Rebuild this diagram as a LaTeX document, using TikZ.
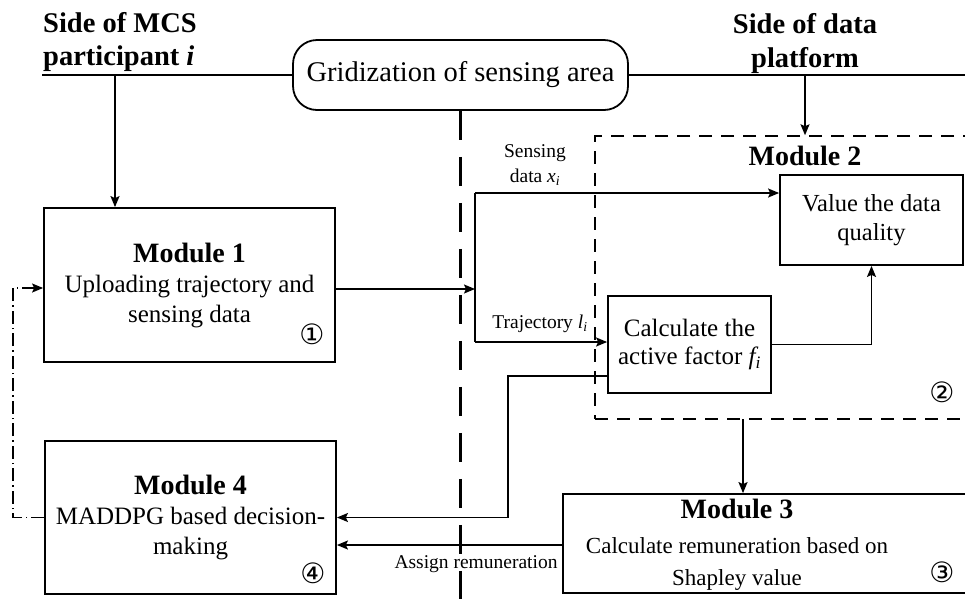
\documentclass[tikz,border=0pt]{standalone}
\usepackage{fontspec}
\setmainfont{Liberation Serif}
\newfontfamily\circfont{DejaVu Sans}
\usetikzlibrary{arrows.meta}

\begin{document}
\begin{tikzpicture}[x=1pt, y=-1pt,
  box/.style={draw, line width=1.8pt, inner sep=0pt, align=center,
    font=\fontsize{25}{30}\selectfont},
  ln/.style={line width=1.5pt},
  arr/.style={line width=1.5pt, -{Stealth[length=11pt, width=9pt, inset=2pt]}},
  lab/.style={inner sep=0pt, font=\fontsize{19.5}{24}\selectfont},
  heading/.style={inner sep=0pt, font=\fontsize{28}{30}\selectfont\bfseries},
  sidetitle/.style={inner sep=0pt, font=\fontsize{28.5}{33}\selectfont\bfseries},
  circnum/.style={inner sep=0pt, font=\circfont\fontsize{28}{28}\selectfont},
  modtwo/.style={draw, line width=1.5pt, dash pattern=on 13pt off 9pt, inner sep=0pt},
  border/.style={line width=3.2pt, dash pattern=on 29pt off 17pt},
  feedback/.style={line width=1.3pt, dash pattern=on 13pt off 4pt on 1.5pt off 4pt,
    -{Stealth[length=11pt, width=9pt, inset=2pt]}}
]
\useasboundingbox (0,0) rectangle (965,598);
\clip (0,0) rectangle (965,598);

% side titles
\node[sidetitle, anchor=base west] (tp1) at (43,32) {Side of MCS};
\node[sidetitle, anchor=base west] (tp2) at (43,65) {participant \textit{i}};
\node[sidetitle, anchor=base] (td1) at (805,33) {Side of data};
\node[sidetitle, anchor=base] (td2) at (805,67) {platform};

% gridization step on the dividing line
\node[draw, line width=1.8pt, rounded corners=24pt, minimum width=335pt,
  minimum height=70pt, inner sep=0pt, font=\fontsize{28.5}{30}\selectfont]
  (grid) at (460.5,75) {Gridization of sensing area};
\coordinate (tl) at (42,75);
\coordinate (tr) at (970,75);
\draw[ln] (tl) -- (grid.west);
\draw[ln] (grid.east) -- (tr);

% participant / platform boundary
\coordinate (dBot) at (460.5,605);
\draw[border] (grid.south) -- (grid.south |- dBot);

% module boxes
\node[box, minimum width=291pt, minimum height=154pt] (m1) at (189.5,285)
  {{\fontsize{28}{30}\selectfont\bfseries Module 1}\\Uploading trajectory and\\sensing data};
\node[box, minimum width=291pt, minimum height=153pt] (m4) at (190.5,517.5)
  {{\fontsize{28}{30}\selectfont\bfseries Module 4}\\MADDPG based decision-\\making};

\node[modtwo, minimum width=390pt, minimum height=283pt] (m2) at (790,277.5) {};
\node[heading, anchor=base] (m2h) at (805,165) {Module 2};
\node[box, minimum width=183pt, minimum height=90pt,
  font=\fontsize{24.5}{29}\selectfont] (val) at (871.5,220) {Value the data\\quality};
\node[box, minimum width=163pt, minimum height=97pt,
  font=\fontsize{25}{28}\selectfont] (calc) at (689.5,344.5)
  {Calculate the\\active factor \textit{f\textsubscript{i}}};

\node[box, minimum width=422pt, minimum height=99pt] (m3) at (774,543.5) {};
\node[heading, anchor=base] (m3h) at (737,518) {Module 3};
\node[inner sep=0pt, anchor=base, font=\fontsize{23}{30}\selectfont] (m3a) at (737,553)
  {Calculate remuneration based on};
\node[inner sep=0pt, anchor=base, font=\fontsize{23}{30}\selectfont] (m3b) at (737,585)
  {Shapley value};

% circled step numbers
\node[circnum] (n1) at (312,334) {①};
\node[circnum] (n2) at (942,392) {②};
\node[circnum] (n3) at (942,572) {③};
\node[circnum] (n4) at (313,573) {④};

% drops from the side lines
\coordinate (pdrop) at (115,75);
\draw[arr] (pdrop) -- (pdrop |- m1.north);
\coordinate (sdrop) at (805,75);
\draw[arr] (sdrop) -- (sdrop |- m2.north);

% upload split into sensing data and trajectory
\coordinate (split) at (475,289);
\coordinate (sTop) at (475,193);
\coordinate (sBot) at (475,342);
\draw[arr] (m1.east |- split) -- (split);
\draw[ln] (sTop) -- (sBot);
\draw[arr] (sTop) -- (sTop -| val.west);
\draw[arr] (sBot) -- (sBot -| calc.west);
\node[lab, anchor=base] (ls1) at (535,157) {Sensing};
\node[lab, anchor=base] (ls2) at (535,182) {data \textit{x\textsubscript{i}}};
\node[lab, anchor=base] (ltr) at (540,328) {Trajectory \textit{l\textsubscript{i}}};

% active factor to data quality
\draw[arr] (calc.east) -| (val.south);

% active factor back to decision making
\coordinate (c1) at (508,376);
\draw[arr] (calc.west |- c1) -- (c1) |- (m4.east);

% module 2 to module 3
\coordinate (m2out) at (743,419);
\draw[arr] (m2out) -- (m2out |- m3.north);

% remuneration
\coordinate (ya) at (0,545);
\draw[arr] (m3.west |- ya) -- (m4.east |- ya);
\node[lab, anchor=base] (lar) at (476,568) {Assign remuneration};

% feedback loop to module 1
\coordinate (fb1) at (13,517.5);
\coordinate (fb2) at (13,288);
\draw[feedback] (m4.west) -- (fb1) -- (fb2) -- (m1.west |- fb2);
\end{tikzpicture}
\end{document}
